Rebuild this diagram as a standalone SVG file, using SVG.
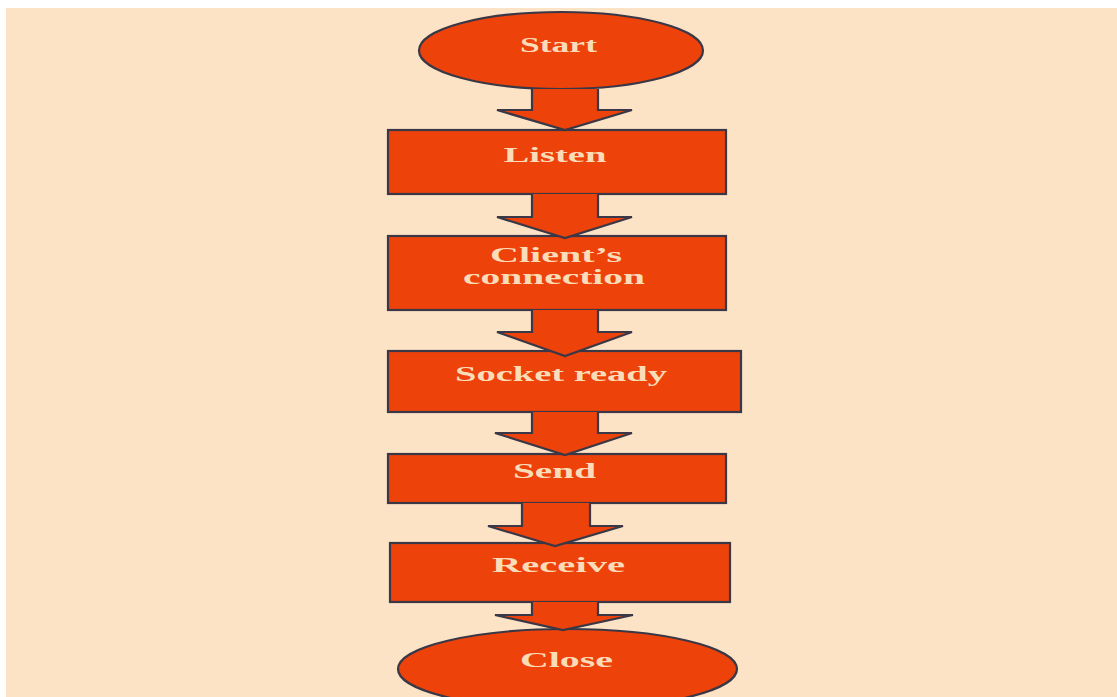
<svg xmlns="http://www.w3.org/2000/svg" width="1117" height="697" viewBox="0 0 1117 697">
  <style>
    .shape { fill: #ee420b; stroke: #3a3846; stroke-width: 2.2; }
    .arrow { fill: #ee420b; stroke: #3a3846; stroke-width: 2.2; stroke-linejoin: miter; }
    .label { font-family: "Liberation Serif", "Times New Roman", serif; font-weight: bold; font-size: 21px; fill: #fbdcb8; text-anchor: middle; }
  </style>
  <rect x="0" y="0" width="1117" height="697" fill="#ffffff"/>
  <rect x="6" y="8" width="1111" height="689" fill="#fde3c6"/>

  <g id="start">
    <ellipse class="shape" cx="561" cy="50.5" rx="142" ry="38.5"/>
    <text class="label" x="558.5" y="52" textLength="77" lengthAdjust="spacingAndGlyphs">Start</text>
  </g>
  <g id="listen">
    <rect class="shape" x="388" y="130" width="338" height="64"/>
    <text class="label" x="555" y="162" textLength="103" lengthAdjust="spacingAndGlyphs">Listen</text>
  </g>
  <g id="client-connection">
    <rect class="shape" x="388" y="236" width="338" height="74"/>
    <text class="label" x="556" y="262" textLength="132" lengthAdjust="spacingAndGlyphs">Client’s</text>
    <text class="label" x="554" y="284" textLength="182" lengthAdjust="spacingAndGlyphs">connection</text>
  </g>
  <g id="socket-ready">
    <rect class="shape" x="388" y="351" width="353" height="61"/>
    <text class="label" x="561" y="381" textLength="212" lengthAdjust="spacingAndGlyphs">Socket ready</text>
  </g>
  <g id="send">
    <rect class="shape" x="388" y="454" width="338" height="49"/>
    <text class="label" x="554.5" y="478" textLength="83" lengthAdjust="spacingAndGlyphs">Send</text>
  </g>
  <g id="receive">
    <rect class="shape" x="390" y="543" width="340" height="59"/>
    <text class="label" x="558.5" y="572" textLength="133" lengthAdjust="spacingAndGlyphs">Receive</text>
  </g>
  <g id="close">
    <ellipse class="shape" cx="567.5" cy="669" rx="169.5" ry="40"/>
    <text class="label" x="566.5" y="667" textLength="93" lengthAdjust="spacingAndGlyphs">Close</text>
  </g>

  <!-- block arrows between steps -->
  <g id="connectors">
    <path class="arrow" d="M532,89 V110 H497 L565,130 L632,110 H598 V89"/>
    <path class="arrow" d="M532,194 V217 H497 L565,238 L632,217 H598 V194"/>
    <path class="arrow" d="M532,310 V332 H497 L565,356 L632,332 H598 V310"/>
    <path class="arrow" d="M532,412 V433 H495 L565,455 L632,433 H598 V412"/>
    <path class="arrow" d="M522,503 V526 H488 L555,546 L623,526 H590 V503"/>
    <path class="arrow" d="M532,602 V615 H495 L563,630 L633,615 H598 V602"/>
  </g>
</svg>
